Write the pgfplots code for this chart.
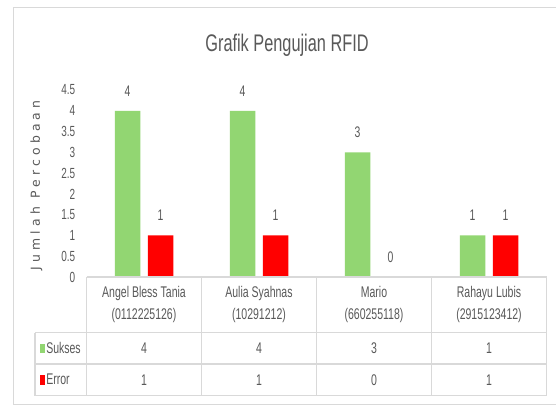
\documentclass[border=0pt]{standalone}
\usepackage{pgfplots}
\pgfplotsset{compat=1.18}
\usepackage{fontspec}
\setmainfont{Liberation Sans}[FakeStretch=0.68]
\newfontfamily\ylabfont[LetterSpace=34]{DejaVu Sans}
\definecolor{sgreen}{HTML}{92D672}
\definecolor{sred}{HTML}{FF0000}
\definecolor{txt}{HTML}{595959}
\definecolor{gridc}{HTML}{D9D9D9}
\begin{document}
\begin{tikzpicture}
\begin{scope}[x=0.75pt,y=-0.75pt]
\path[use as bounding box] (0,0) rectangle (556,406);
\fill[white] (0,0) rectangle (556,406);
\draw[gridc, line width=1.2pt] (13.5,404.5) -- (13.5,7.5) -- (556,7.5);
\draw[gridc, line width=0.75pt] (13.5,404.5) -- (556,404.5);
\node[text=txt, font=\fontsize{18}{21}\selectfont] at (287,45) {Grafik Pengujian RFID};
\node[text=txt, rotate=90, font=\ylabfont\fontsize{9.3}{11}\selectfont] at (36.5,185.5) {Jumlah Percobaan};
\end{scope}
\begin{axis}[
  at={(64.875pt,-207.75pt)}, anchor=south west,
  scale only axis, width=345pt, height=140.25pt,
  ybar=5.625pt, bar width=19.125pt,
  xmin=-0.5, xmax=3.5, ymin=0, ymax=4.5,
  enlargelimits=false, clip=false,
  axis line style={draw=none},
  xtick={0.5,1.5,2.5}, xticklabels={},
  xtick align=outside, x tick style={gridc, line width=0.9pt}, major tick length=3pt,
  tick pos=left,
  ytick={0,0.5,1,1.5,2,2.5,3,3.5,4,4.5},
  y tick style={draw=none},
  yticklabel style={font=\fontsize{11}{13}\selectfont, text=txt, xshift=-5pt},
  /pgf/number format/assume math mode=true,
  /pgf/number format/fixed,
  nodes near coords,
  nodes near coords style={font=\fontsize{11.5}{13}\selectfont, text=txt, anchor=center, yshift=15pt},
]
\addplot[fill=sgreen, draw=none] coordinates {(0,4) (1,4) (2,3) (3,1)};
\addplot[fill=sred, draw=none] coordinates {(0,1) (1,1) (2,0) (3,1)};
\end{axis}
\begin{scope}[x=0.75pt,y=-0.75pt]
\draw[gridc, line width=0.9pt] (86.5,277) -- (546.5,277);
\foreach \xx in {86.5,201.5,316.5,431.5,546.5} {\draw[gridc, line width=0.9pt] (\xx,277) -- (\xx,395.5);}
\foreach \yy in {332.5,364,395.5} {\draw[gridc, line width=0.9pt] (35,\yy) -- (546.5,\yy);}
\draw[gridc, line width=0.9pt] (35,332.5) -- (35,395.5);
\begin{scope}[every node/.style={text=txt, font=\fontsize{11.6}{16.5}\selectfont, align=center}]
\node at (144,304) {Angel Bless Tania\\(0112225126)};
\node at (259,304) {Aulia Syahnas\\(10291212)};
\node at (374,304) {Mario\\(660255118)};
\node at (489,304) {Rahayu Lubis\\(2915123412)};
\node at (144,348.25) {4};
\node at (259,348.25) {4};
\node at (374,348.25) {3};
\node at (489,348.25) {1};
\node at (144,379.75) {1};
\node at (259,379.75) {1};
\node at (374,379.75) {0};
\node at (489,379.75) {1};
\node[anchor=west, inner sep=0pt] at (46,348.25) {Sukses};
\node[anchor=west, inner sep=0pt] at (46,379.75) {Error};
\end{scope}
\fill[sgreen] (39.5,343.5) rectangle (45,353);
\fill[sred] (39.5,375) rectangle (45,384.5);
\end{scope}
\end{tikzpicture}
\end{document}
